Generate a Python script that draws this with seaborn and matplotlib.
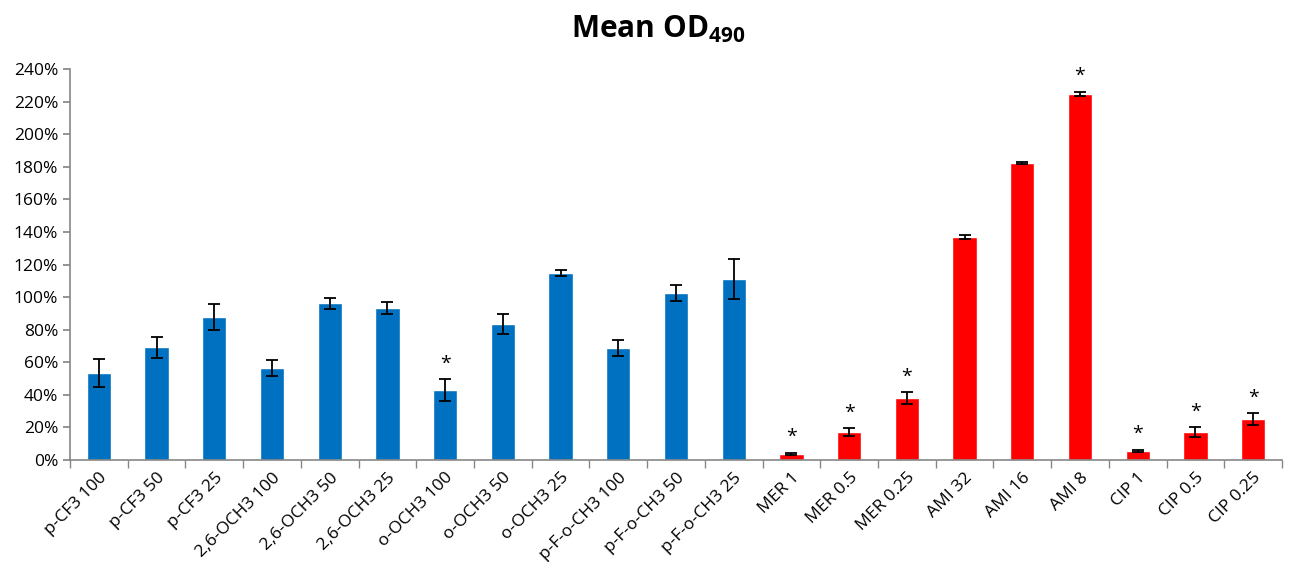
import pandas as pd
import numpy as np
import matplotlib
matplotlib.use("Agg")
import matplotlib.pyplot as plt
import seaborn as sns
from matplotlib.ticker import FuncFormatter, FixedLocator

sns.set_theme(style="white")
plt.rcParams['font.family'] = ['Open Sans', 'DejaVu Sans']
plt.rcParams['mathtext.fontset'] = 'custom'
plt.rcParams['mathtext.rm'] = 'Open Sans'
plt.rcParams['mathtext.bf'] = 'Open Sans:bold'
plt.rcParams['text.color'] = 'black'
plt.rcParams['xtick.color'] = 'black'
plt.rcParams['ytick.color'] = 'black'

# data
labels = ['p-CF3 100', 'p-CF3 50', 'p-CF3 25', '2,6-OCH3 100', '2,6-OCH3 50',
          '2,6-OCH3 25', 'o-OCH3 100', 'o-OCH3 50', 'o-OCH3 25', 'p-F-o-CH3 100',
          'p-F-o-CH3 50', 'p-F-o-CH3 25', 'MER 1', 'MER 0.5', 'MER 0.25',
          'AMI 32', 'AMI 16', 'AMI 8', 'CIP 1', 'CIP 0.5', 'CIP 0.25']
means = [53.2, 69.2, 87.6, 56.3, 96.2, 93.1, 43.0, 83.5, 114.8, 68.8, 102.5, 111.1,
         3.7, 17.2, 38.1, 136.9, 182.3, 224.7, 5.5, 17.2, 25.2]
errors = [8.5, 6.5, 8.0, 5.0, 3.5, 3.7, 6.7, 6.0, 2.0, 5.0, 4.7, 12.0,
          0.8, 2.2, 3.5, 1.0, 0.8, 1.3, 0.8, 3.0, 3.5]
groups = ['test'] * 12 + ['control'] * 9
significant = [False] * 6 + [True] + [False] * 5 + \
              [True, True, True, False, False, True, True, True, True]

df = pd.DataFrame({'label': labels, 'mean': means, 'err': errors, 'group': groups})

fig = plt.figure(figsize=(12.9, 5.62), dpi=100)
ax = fig.add_axes([0.0543, 0.1815, 0.9395, 0.6957])

sns.barplot(data=df, x='label', y='mean', hue='group',
            palette={'test': '#0070C0', 'control': '#FF0000'},
            dodge=False, width=0.42, legend=False, ax=ax, saturation=1)

x = np.arange(len(labels))
ax.errorbar(x, df['mean'], yerr=df['err'], fmt='none', ecolor='black',
            elinewidth=1.3, capsize=4, capthick=1.3)

# asterisks
for xi, m, e, s in zip(x, means, errors, significant):
    if s:
        ax.text(xi, m + e + 4, '*', ha='center', va='bottom', fontsize=14, color='black')

ax.set_xlim(-0.5, len(labels) - 0.5)
ax.set_ylim(0, 240)
ax.set_yticks(np.arange(0, 241, 20))
ax.yaxis.set_major_formatter(FuncFormatter(lambda v, p: f'{int(v)}%'))

# tick marks between categories, like Excel
ax.xaxis.set_minor_locator(FixedLocator(np.arange(-0.5, len(labels), 1)))
ax.tick_params(axis='x', which='major', length=0, pad=7, labelcolor='black')
ax.tick_params(axis='x', which='minor', length=6, color='#868686', direction='out', bottom=True)
ax.tick_params(axis='y', length=5, color='#868686', direction='out', left=True,
               labelsize=12.5, labelcolor='black')
ax.set_xticks(x)
ax.set_xticklabels(labels, rotation=45, ha='right', rotation_mode='anchor', fontsize=12.5)

for side in ['top', 'right']:
    ax.spines[side].set_visible(False)
for side in ['left', 'bottom']:
    ax.spines[side].set_color('#868686')
    ax.spines[side].set_linewidth(1.2)

ax.set_xlabel('')
ax.set_ylabel('')
fig.suptitle(r'Mean OD$_{\mathbf{490}}$', fontsize=21.5, fontweight='bold',
             color='black', x=0.51, y=0.975)

plt.savefig('out.png', dpi=100)
plt.close()
